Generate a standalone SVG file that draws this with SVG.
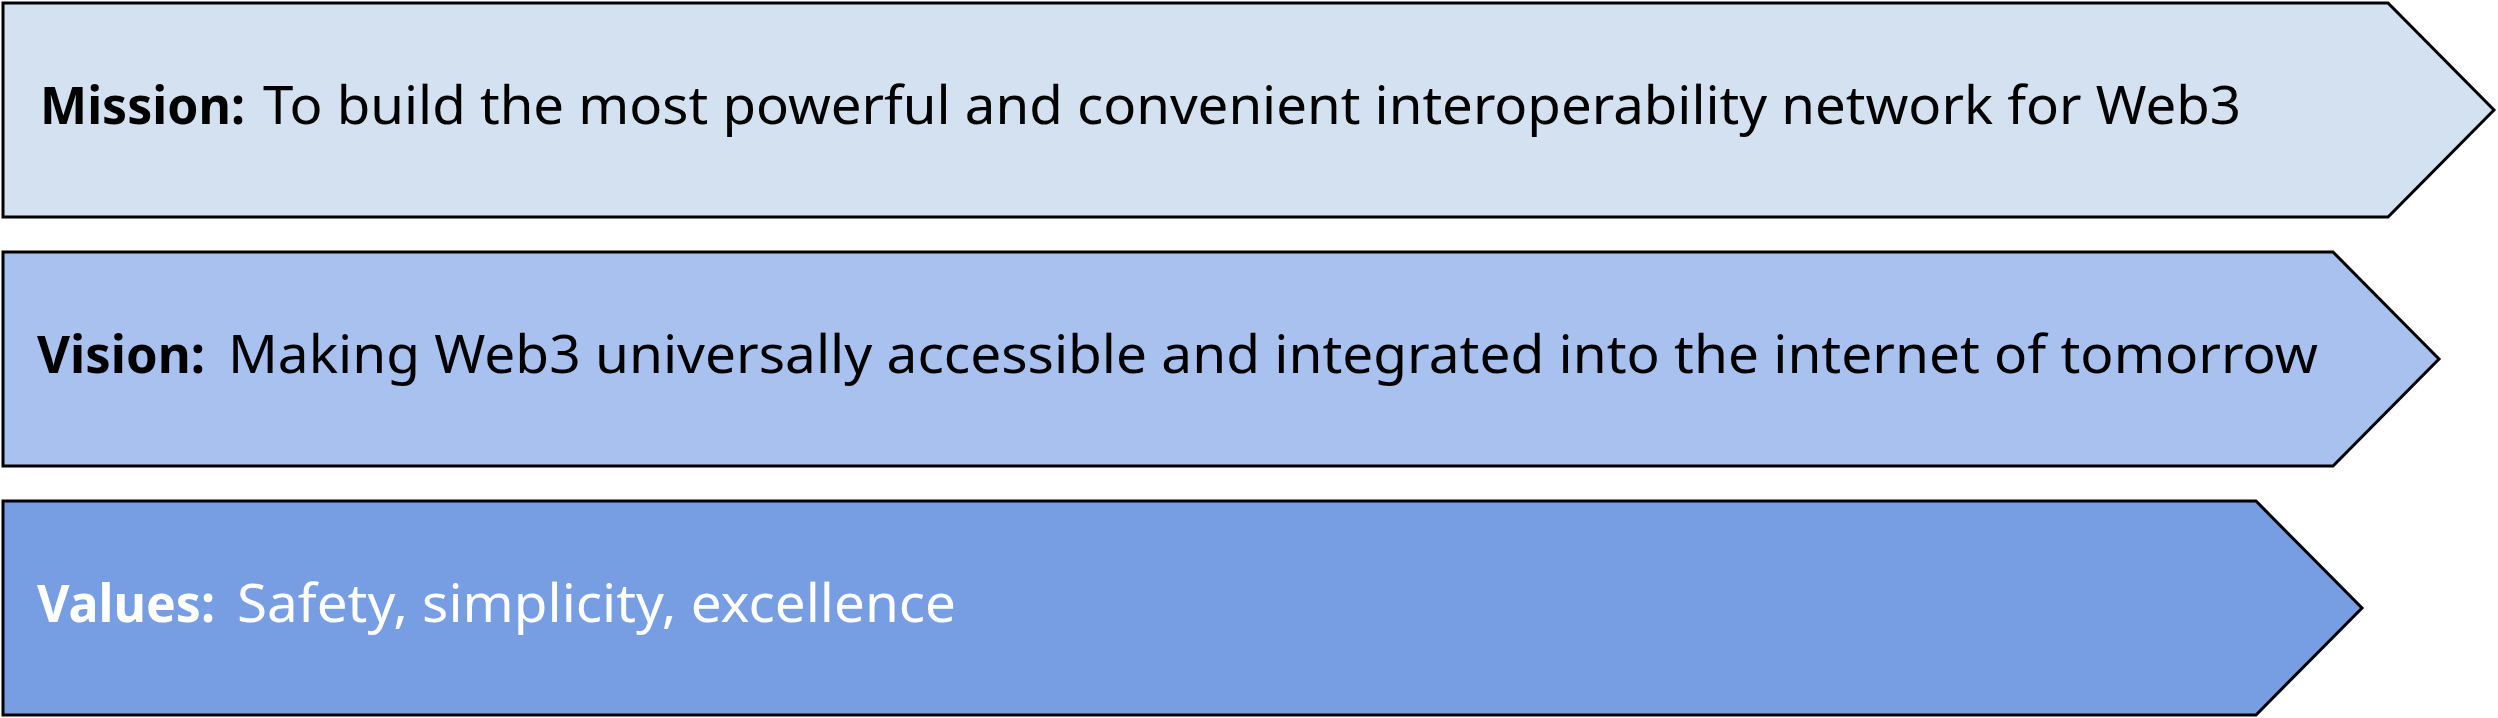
<svg xmlns="http://www.w3.org/2000/svg" width="2498" height="718" viewBox="0 0 2498 718">
  <style>
    .shape { stroke: #000000; stroke-width: 3; stroke-linejoin: miter; }
    .t { font-family: "Noto Sans", "Liberation Sans", sans-serif; font-size: 52px; }
    .b { font-weight: bold; }
    .dark { fill: #000000; }
    .light { fill: #ffffff; }
  </style>
  <rect width="2498" height="718" fill="#ffffff"/>
  <g id="mission">
    <path class="shape" fill="#d4e1f1" d="M3,3 L2388,3 L2494,110 L2388,217 L3,217 Z"/>
    <text class="t b dark" x="40" y="124" textLength="205" lengthAdjust="spacingAndGlyphs">Mission:</text>
    <text class="t dark" x="263" y="124" textLength="1978" lengthAdjust="spacingAndGlyphs">To build the most powerful and convenient interoperability network for Web3</text>
  </g>
  <g id="vision">
    <path class="shape" fill="#a9c1ee" d="M3,252 L2333,252 L2439,359 L2333,466 L3,466 Z"/>
    <text class="t b dark" x="37" y="373" textLength="168" lengthAdjust="spacingAndGlyphs">Vision:</text>
    <text class="t dark" x="228" y="373" textLength="2090" lengthAdjust="spacingAndGlyphs">Making Web3 universally accessible and integrated into the internet of tomorrow</text>
  </g>
  <g id="values">
    <path class="shape" fill="#779de3" d="M3,501 L2256,501 L2362,608 L2256,715 L3,715 Z"/>
    <text class="t b light" x="37" y="622" textLength="178" lengthAdjust="spacingAndGlyphs">Values:</text>
    <text class="t light" x="237" y="622" textLength="719" lengthAdjust="spacingAndGlyphs">Safety, simplicity, excellence</text>
  </g>
  <g id="connectors"></g>
</svg>
